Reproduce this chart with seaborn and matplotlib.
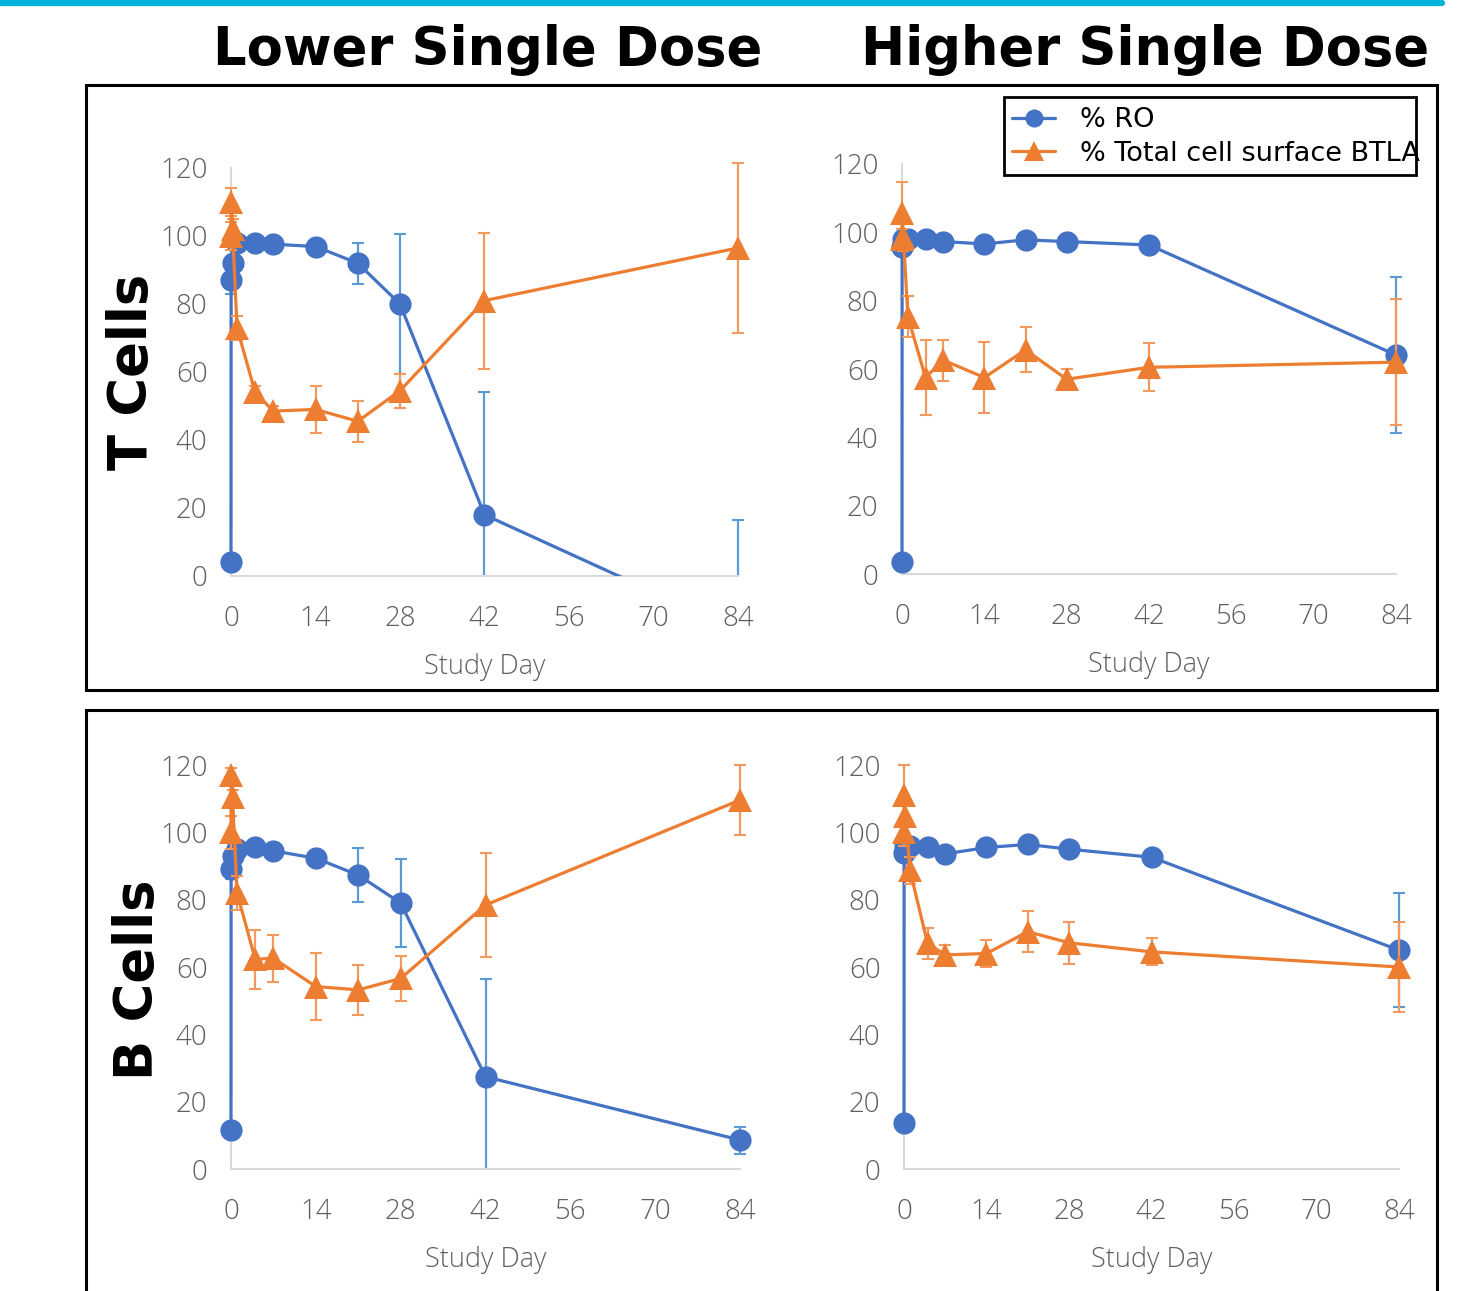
import pandas as pd
import matplotlib
matplotlib.use("Agg")
import matplotlib.pyplot as plt
import seaborn as sns
from matplotlib.patches import Rectangle
from matplotlib.lines import Line2D

# Study days (several samples sit on day 0 / day 1)
days = [0, 0.02, 0.25, 1, 4, 7, 14, 21, 28, 42, 84]
xticks = [0, 14, 28, 42, 56, 70, 84]
yticks = [0, 20, 40, 60, 80, 100, 120]

# T cells, lower single dose
ro_t_low = [4, 87, 92, 98, 98, 97.6, 96.9, 92, 80, 18, -16]
ro_t_low_err = [0, 4, 2, 1, 1, 1, 1, 6, 20.5, 36, 32.5]
btla_t_low = [100, 110, 102, 73, 54, 48.5, 49, 45.5, 54.5, 81, 96.5]
btla_t_low_err = [4, 4, 3, 3.5, 2, 1.5, 7, 6, 5, 20, 25]

# T cells, higher single dose
ro_t_high = [3.6, 95.8, 98, 98, 98, 97.3, 96.6, 97.8, 97.3, 96.3, 64.1]
ro_t_high_err = [0, 2, 1, 1, 1, 1, 1, 1, 1, 1, 22.7]
btla_t_high = [98, 105.6, 98.5, 75.3, 57.5, 62.6, 57.5, 65.6, 57, 60.5, 62]
btla_t_high_err = [3, 9, 4, 6, 11, 6, 10.5, 6.6, 3, 7, 18.5]

# B cells, lower single dose
ro_b_low = [11.5, 89, 93, 95, 95.7, 94.5, 92.3, 87.3, 79, 27.4, 8.6]
ro_b_low_err = [1, 3, 2, 1, 1, 1, 1, 8, 13, 29, 4]
btla_b_low = [100, 117, 110.6, 82, 62.3, 62.6, 54.2, 53.2, 56.6, 78.4, 109.6]
btla_b_low_err = [5, 2, 2, 5, 8.7, 7, 10, 7.5, 6.7, 15.5, 10.4]

# B cells, higher single dose
ro_b_high = [13.6, 94, 96, 96, 95.7, 93.6, 95.5, 96.4, 95, 92.6, 65]
ro_b_high_err = [0, 2, 1, 1, 1, 1, 1, 1, 1, 1, 17]
btla_b_high = [100, 111, 105, 88.8, 67, 63.6, 64, 70.5, 67.2, 64.5, 60]
btla_b_high_err = [4, 9, 3, 4, 4.5, 3, 4, 6, 6.3, 4, 13.5]

BLUE = "#4472C4"
ORANGE = "#ED7D31"
BLUE_ERR = "#5B9BD5"
ORANGE_ERR = "#F29A5E"
GREY = "#5F5F5F"

W, H = 1484, 1291

sns.set_theme(style="white")
plt.rcParams["font.family"] = ["Open Sans", "DejaVu Sans"]

fig = plt.figure(figsize=(W / 100, H / 100), dpi=100)


def draw_panel(rect_px, ro, ro_err, btla, btla_err):
    left, right, y0, y120 = rect_px
    ax = fig.add_axes([left / W, 1 - y0 / H, (right - left) / W, (y0 - y120) / H])
    df = pd.DataFrame({"Study Day": days, "RO": ro, "BTLA": btla})

    ax.errorbar(days, ro, yerr=ro_err, fmt="none", ecolor=BLUE_ERR,
                elinewidth=1.6, capsize=4, capthick=1.5, zorder=2)
    sns.lineplot(data=df, x="Study Day", y="RO", ax=ax, color=BLUE,
                 marker="o", markersize=16, markeredgecolor=BLUE,
                 markeredgewidth=0, linewidth=2.3, legend=False, zorder=3)
    ax.errorbar(days, btla, yerr=btla_err, fmt="none", ecolor=ORANGE_ERR,
                elinewidth=1.6, capsize=4, capthick=1.5, zorder=4)
    sns.lineplot(data=df, x="Study Day", y="BTLA", ax=ax, color=ORANGE,
                 marker="^", markersize=17, markeredgecolor=ORANGE,
                 markeredgewidth=0, linewidth=2.3, legend=False, zorder=5)

    # clip only below the x axis so markers at day 0 stay whole
    clip = Rectangle((-0.1, 0), 1.2, 1.2, transform=ax.transAxes)
    for art in ax.lines + ax.collections:
        art.set_clip_path(clip)

    ax.set_xlim(0, 84)
    ax.set_ylim(0, 120)
    ax.set_xticks(xticks)
    ax.set_yticks(yticks)
    for side in ["top", "right"]:
        ax.spines[side].set_visible(False)
    for side in ["left", "bottom"]:
        ax.spines[side].set_color("#D9D9D9")
        ax.spines[side].set_linewidth(1.5)
    ax.tick_params(length=0, labelsize=20, labelcolor=GREY)
    ax.tick_params(axis="x", pad=21)
    ax.tick_params(axis="y", pad=17)
    for lab in ax.get_xticklabels() + ax.get_yticklabels():
        lab.set_fontweight("light")
    ax.set_xlabel("Study Day", fontsize=19.5, color=GREY, labelpad=14, fontweight="light")
    ax.set_ylabel("")
    return ax


draw_panel((231, 738, 576, 168), ro_t_low, ro_t_low_err, btla_t_low, btla_t_low_err)
draw_panel((902, 1396, 574, 164), ro_t_high, ro_t_high_err, btla_t_high, btla_t_high_err)
draw_panel((231, 740, 1169, 765), ro_b_low, ro_b_low_err, btla_b_low, btla_b_low_err)
draw_panel((904, 1399, 1169, 765), ro_b_high, ro_b_high_err, btla_b_high, btla_b_high_err)

# column and row headings
head = dict(fontsize=38, fontweight="bold", family="DejaVu Sans", color="black",
            ha="center", va="center")
fig.text(488 / W, 1 - 50 / H, "Lower Single Dose", **head)
fig.text(1145 / W, 1 - 50 / H, "Higher Single Dose", **head)
fig.text(132 / W, 1 - 372 / H, "T Cells", rotation=90, **head)
fig.text(138 / W, 1 - 980 / H, "B Cells", rotation=90, **head)

# frames and top rule
fig.add_artist(Line2D([0, 1442 / W], [1 - 3 / H, 1 - 3 / H], color="#00B4DC", lw=4.5))
fig.add_artist(Rectangle((86 / W, 1 - 690 / H), (1437 - 86) / W, (690 - 85) / H,
                         transform=fig.transFigure, fill=False, ec="black", lw=2.2))
fig.add_artist(Rectangle((86 / W, -0.05), (1437 - 86) / W, 1 - 710 / H + 0.05,
                         transform=fig.transFigure, fill=False, ec="black", lw=2.2))

# legend: text runs a little past its box, as in the source slide
fig.add_artist(Rectangle((1004 / W, 1 - 175 / H), (1416 - 1004) / W, (175 - 97) / H,
                         transform=fig.transFigure, fill=True, fc="white", ec="black",
                         lw=2, zorder=10))
handles = [
    Line2D([], [], color=BLUE, marker="o", markersize=13, lw=2.3, markeredgewidth=0),
    Line2D([], [], color=ORANGE, marker="^", markersize=14, lw=2.3, markeredgewidth=0),
]
leg = fig.legend(handles, ["% RO", "% Total cell surface BTLA"], loc="upper left",
                 bbox_to_anchor=(1012 / W, 1 - 107 / H), frameon=False,
                 labelcolor="black", prop={"family": "DejaVu Sans", "size": 19.5},
                 handlelength=1.6, borderpad=0, labelspacing=0.28, handletextpad=0.9,
                 borderaxespad=0)
leg.set_zorder(11)

fig.savefig("out.png", dpi=100)
